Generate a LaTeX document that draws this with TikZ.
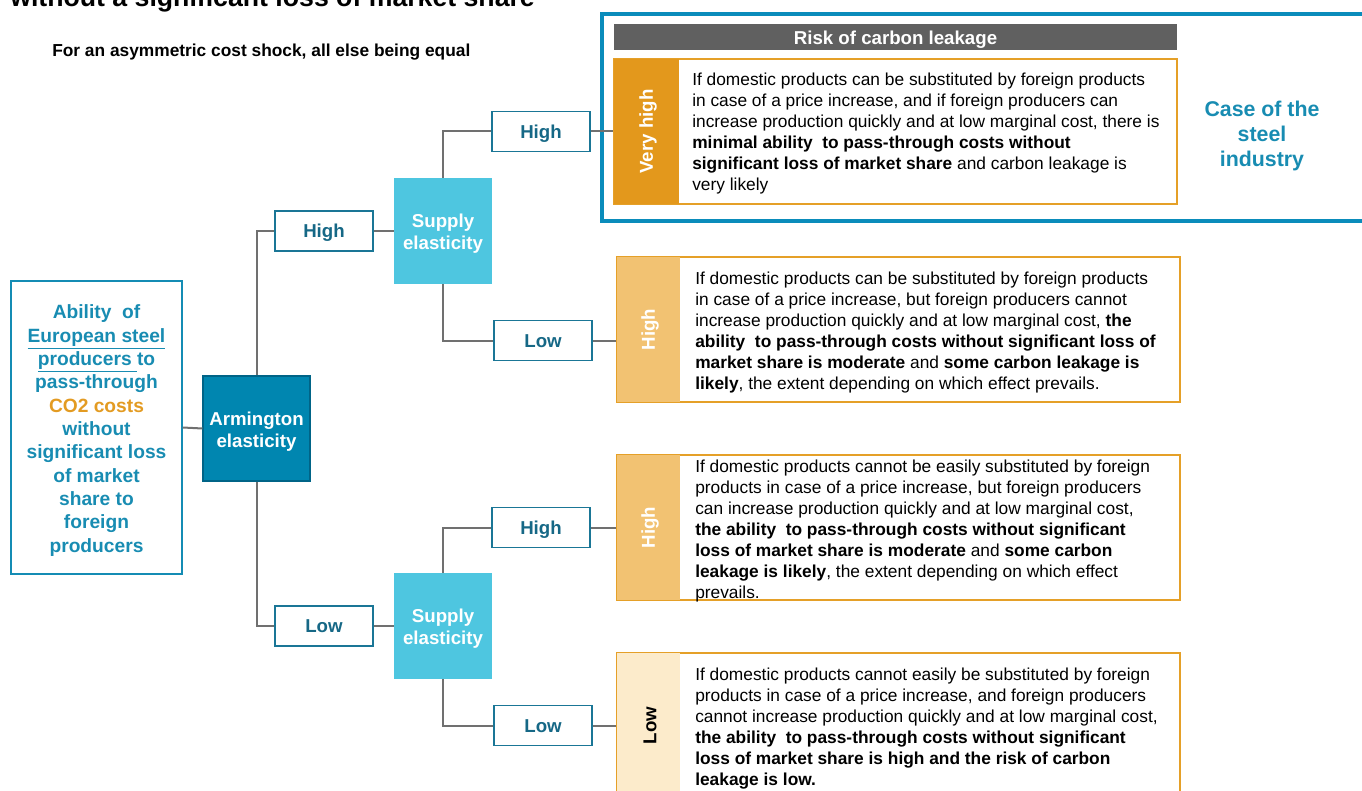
\documentclass[tikz,border=0pt]{standalone}
\usepackage{fontspec}
\setmainfont{Liberation Sans}
\definecolor{tealT}{RGB}{24,140,178}
\definecolor{tealB}{RGB}{20,140,180}
\definecolor{lblT}{RGB}{22,104,134}
\definecolor{lblB}{RGB}{26,118,150}
\definecolor{armF}{RGB}{0,134,176}
\definecolor{armB}{RGB}{0,100,135}
\definecolor{supF}{RGB}{78,198,224}
\definecolor{frameC}{RGB}{10,140,187}
\definecolor{hdrF}{RGB}{96,96,96}
\definecolor{orD}{RGB}{227,152,28}
\definecolor{orB}{RGB}{229,160,40}
\definecolor{orL}{RGB}{242,194,114}
\definecolor{orP}{RGB}{252,235,203}
\definecolor{lineG}{RGB}{112,112,112}
\definecolor{co2}{RGB}{227,155,34}
\begin{document}
\begin{tikzpicture}[x=0.75pt,y=-0.75pt,
  conn/.style={draw=lineG, line width=1.5pt},
  lvl/.style={draw=lblB, line width=1.1pt, fill=white, text=lblT,
    font=\fontsize{14}{16}\selectfont\bfseries, minimum width=73.5pt, minimum height=30pt, inner sep=0pt,
    text height=10pt, text depth=0pt},
  elast/.style={minimum width=73.5pt, minimum height=79.5pt, inner sep=0pt},
  elastlbl/.style={text=white, font=\fontsize{14}{16.5}\selectfont\bfseries, align=center, inner sep=0pt},
  riskbox/.style={draw=orB, line width=1.1pt, fill=white, minimum width=422.25pt, minimum height=108.75pt, inner sep=0pt},
  band/.style={minimum height=108.75pt, inner sep=0pt, anchor=west},
  bandlbl/.style={rotate=90, font=\fontsize{14}{16}\selectfont\bfseries, inner sep=0pt},
  body/.style={anchor=north west, inner sep=0pt, align=left, font=\fontsize{13}{15.75}\selectfont, text=black}
]
\useasboundingbox (0,0) rectangle (1362,791);

% titles
\node[anchor=base west, inner sep=0pt, font=\fontsize{20}{24}\selectfont\bfseries] (title) at (10,7) {without a significant loss of market share};
\node[anchor=west, inner sep=0pt, font=\fontsize{13}{15}\selectfont\bfseries] (sub) at (52,52) {For an asymmetric cost shock, all else being equal};

% left box
\node[draw=tealB, line width=1.1pt, minimum width=128.25pt, minimum height=219.75pt, inner sep=0pt] (ab) at (96.5,427.5) {};
\node[align=center, text=tealT, font=\fontsize{14.4}{17.5}\selectfont\bfseries, inner sep=0pt] (abt) at ([yshift=-2.25pt]ab.center)
  {Ability\ \ of\\ \underline{European steel}\\ \underline{producers }to\\ pass-through\\ \textcolor{co2}{CO2 costs}\\ without\\ significant loss\\ of market\\ share to\\ foreign\\ producers};

% armington
\node[draw=armB, line width=0.8pt, fill=armF, minimum width=80.25pt, minimum height=78.75pt, inner sep=0pt] (arm) at (256.5,428.5) {};
\node[elastlbl] (armt) at ([yshift=-2.25pt]arm.center) {Armington\\ elasticity};

\node[lvl] (h1) at (324,231) {High};
\node[lvl] (l1) at (324,626) {Low};
\node[elast, fill=supF] (s1) at (443,231) {};
\node[elastlbl] (s1t) at ([yshift=-2.25pt]s1.center) {Supply\\ elasticity};
\node[elast, fill=supF] (s2) at (443,626) {};
\node[elastlbl] (s2t) at ([yshift=-2.25pt]s2.center) {Supply\\ elasticity};
\node[lvl] (hh) at (541,131.5) {High};
\node[lvl] (hl) at (543,340.5) {Low};
\node[lvl] (lh) at (541,527.5) {High};
\node[lvl] (ll) at (543,725.5) {Low};

% frame
\draw[frameC, line width=3pt] (602,14) rectangle (1380,221);

% header
\node[fill=hdrF, minimum width=422.25pt, minimum height=19.5pt, inner sep=0pt] (hdr) at (895.5,37) {};
\node[text=white, font=\fontsize{14}{16}\selectfont\bfseries, inner sep=0pt] (hdrt) at ([yshift=-2pt]hdr.center) {Risk of carbon leakage};

% risk boxes
\node[riskbox] (r1) at (895.5,131.5) {};
\node[band, fill=orD, minimum width=48.75pt] (b1) at (r1.west) {};
\draw[orB, line width=1.1pt] (r1.north west) rectangle (r1.south east);
\node[bandlbl, text=white] (t1) at ([xshift=1.5pt]b1.center) {Very high};

\node[riskbox] (r2) at (898.5,329.5) {};
\node[band, fill=orL, minimum width=47.25pt] (b2) at (r2.west) {};
\draw[orB, line width=1.1pt] (r2.north west) rectangle (r2.south east);
\node[bandlbl, text=white] (t2) at ([xshift=1.5pt]b2.center) {High};

\node[riskbox] (r3) at (898.5,527.5) {};
\node[band, fill=orL, minimum width=47.25pt] (b3) at (r3.west) {};
\draw[orB, line width=1.1pt] (r3.north west) rectangle (r3.south east);
\node[bandlbl, text=white] (t3) at ([xshift=1.5pt]b3.center) {High};

\node[riskbox] (r4) at (898.5,725.5) {};
\node[band, fill=orP, minimum width=47.25pt] (b4) at (r4.west) {};
\draw[orB, line width=1.1pt] (r4.north west) rectangle (r4.south east);
\node[bandlbl, text=black] (t4) at ([xshift=1.5pt]b4.center) {Low};

\node[body] (x1) at (692,72.8) {If domestic products can be substituted by foreign products\\
in case of a price increase, and if foreign producers can\\
increase production quickly and at low marginal cost, there is\\
\textbf{minimal ability\ \ to pass-through costs without}\\
\textbf{significant loss of market share} and carbon leakage is\\
very likely};

\node[body] (x2) at (695,271.8) {If domestic products can be substituted by foreign products\\
in case of a price increase, but foreign producers cannot\\
increase production quickly and at low marginal cost, \textbf{the}\\
\textbf{ability\ \ to pass-through costs without significant loss of}\\
\textbf{market share is moderate} and \textbf{some carbon leakage is}\\
\textbf{likely}, the extent depending on which effect prevails.};

\node[body] (x3) at (695,459.8) {If domestic products cannot be easily substituted by foreign\\
products in case of a price increase, but foreign producers\\
can increase production quickly and at low marginal cost,\\
\textbf{the ability\ \ to pass-through costs without significant}\\
\textbf{loss of market share is moderate} and \textbf{some carbon}\\
\textbf{leakage is likely}, the extent depending on which effect\\
prevails.};

\node[body] (x4) at (695,667.8) {If domestic products cannot easily be substituted by foreign\\
products in case of a price increase, and foreign producers\\
cannot increase production quickly and at low marginal cost,\\
\textbf{the ability\ \ to pass-through costs without significant}\\
\textbf{loss of market share is high and the risk of carbon}\\
\textbf{leakage is low.}};

% case of steel
\node[align=center, text=tealT, font=\fontsize{16}{19}\selectfont\bfseries] (case) at (1262,136) {Case of the\\ steel\\ industry};

% connectors
\draw[conn] (ab.east) -- (arm.west);
\draw[conn] (arm.north) |- (h1.west);
\draw[conn] (arm.south) |- (l1.west);
\draw[conn] (h1.east) -- (s1.west);
\draw[conn] (l1.east) -- (s2.west);
\draw[conn] (s1.north) |- (hh.west);
\draw[conn] (s1.south) |- (hl.west);
\draw[conn] (s2.north) |- (lh.west);
\draw[conn] (s2.south) |- (ll.west);
\draw[conn] (hh.east) -- (hh.east -| r1.west);
\draw[conn] (hl.east) -- (hl.east -| r2.west);
\draw[conn] (lh.east) -- (lh.east -| r3.west);
\draw[conn] (ll.east) -- (ll.east -| r4.west);
\end{tikzpicture}
\end{document}
